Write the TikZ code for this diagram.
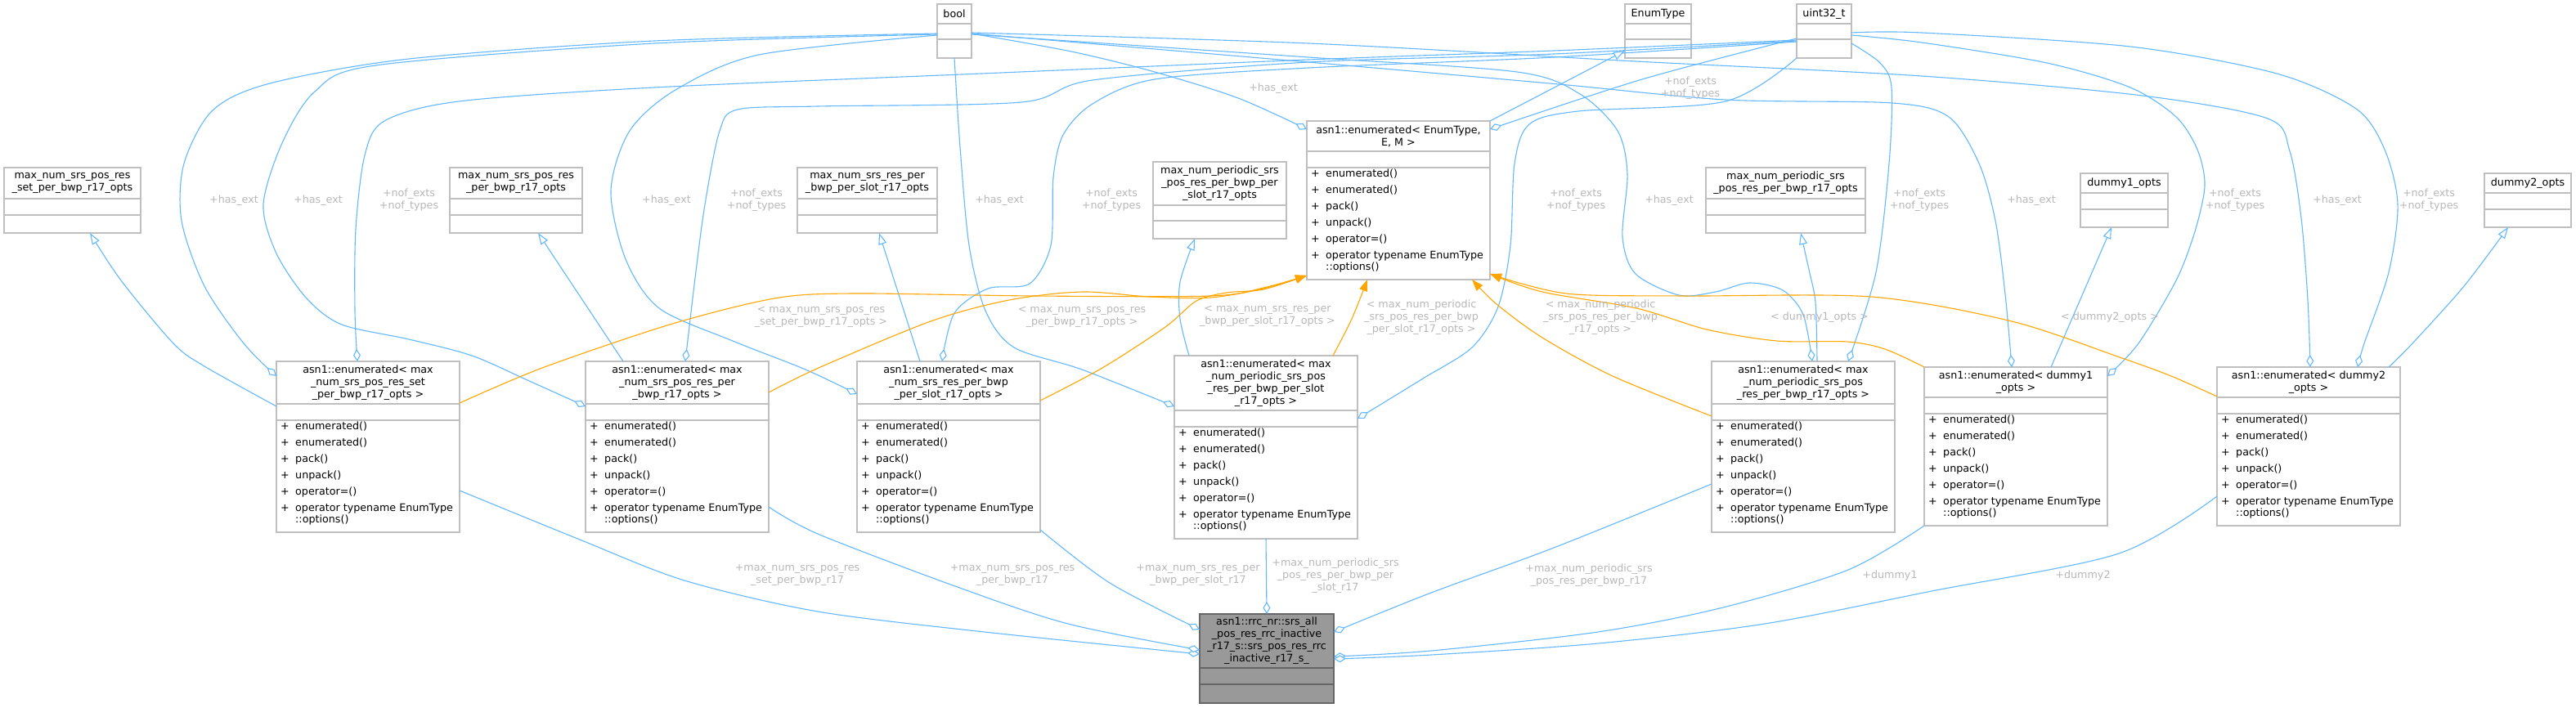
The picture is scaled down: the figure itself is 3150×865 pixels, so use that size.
\documentclass[tikz,border=0pt]{standalone}
\usepackage{fontspec}
\setmainfont{DejaVu Sans}
\usetikzlibrary{arrows.meta}
\definecolor{boxgray}{HTML}{BFBFBF}
\definecolor{edgeblue}{HTML}{63B8FF}
\definecolor{edgeorange}{HTML}{FFA500}
\definecolor{labelgray}{HTML}{B8B8B8}
\definecolor{mainfill}{HTML}{999999}
\definecolor{mainborder}{HTML}{666666}
\tikzset{
  classbox/.style={draw=boxgray, fill=white, line width=1.2pt, inner sep=0pt, outer sep=0pt, anchor=north west},
  sepline/.style={draw=boxgray, line width=1.2pt},
  titletext/.style={align=center, inner sep=0pt, font=\fontsize{12.7}{15}\selectfont},
  methtext/.style={anchor=mid west, inner sep=0pt, font=\fontsize{12.7}{15}\selectfont},
  elabel/.style={align=center, inner sep=0pt, text=labelgray, font=\fontsize{12.7}{15}\selectfont},
  usage/.style={draw=edgeblue, line width=1.1pt, -{Diamond[fill=white, length=15pt, width=9pt]}},
  inherit/.style={draw=edgeblue, line width=1.1pt, -{Triangle[fill=white, length=14pt, width=10pt]}},
  templ/.style={draw=edgeorange, line width=1.1pt, -{Triangle[length=14pt, width=10pt]}},
}
\newcommand{\enumbox}[5]{%
  \pgfmathsetmacro{\tht}{15*#4+7}%
  \pgfmathsetmacro{\bxh}{\tht+157}%
  \node[classbox, minimum width=224pt, minimum height=\bxh pt] (#1) at (#2,#3) {};
  \node[titletext] (#1-t) at (#2+112,#3+\tht/2) {#5};
  \draw[sepline] (#2,#3+\tht) -- ++(224,0);
  \draw[sepline] (#2,#3+\tht+20) -- ++(224,0);
  \foreach \i/\mname in {0/enumerated(),1/enumerated(),2/pack(),3/unpack(),4/operator=()}{
    \node[methtext] (#1-p\i) at (#2+5,#3+\tht+29+20*\i) {+};
    \node[methtext] (#1-m\i) at (#2+23,#3+\tht+29+20*\i) {\mname};
  }
  \node[methtext] (#1-p5) at (#2+5,#3+\tht+129) {+};
  \node[methtext] (#1-m5) at (#2+23,#3+\tht+129) {operator typename EnumType};
  \node[methtext] (#1-m6) at (#2+23,#3+\tht+143) {::options()};
}
\newcommand{\simplebox}[8]{%
  \pgfmathsetmacro{\bxw}{#4-#2}%
  \pgfmathsetmacro{\bxh}{#7-#3}%
  \node[classbox, minimum width=\bxw pt, minimum height=\bxh pt] (#1) at (#2,#3) {};
  \node[titletext] (#1-t) at ({(#2+#4)/2},{(#3+#5)/2}) {#8};
  \draw[sepline] (#2,#5) -- (#4,#5);
  \draw[sepline] (#2,#6) -- (#4,#6);
}
\begin{document}
\begin{tikzpicture}[x=1pt,y=-1pt]
\fill[white] (0,0) rectangle (3150,865);
\useasboundingbox (0,0) rectangle (3150,865);

% simple boxes
\simplebox{bool}{1146}{5}{1188}{29}{48}{71}{bool}
\simplebox{enumtype}{1987}{5}{2068}{29}{48}{71}{EnumType}
\simplebox{uint32}{2197}{5}{2264}{29}{48}{71}{uint32\_t}
\simplebox{optset}{5}{205}{172}{243}{263}{285}{max\_num\_srs\_pos\_res\\\_set\_per\_bwp\_r17\_opts}
\simplebox{optposres}{550}{205}{712}{243}{263}{285}{max\_num\_srs\_pos\_res\\\_per\_bwp\_r17\_opts}
\simplebox{optslot}{975}{205}{1146}{243}{263}{285}{max\_num\_srs\_res\_per\\\_bwp\_per\_slot\_r17\_opts}
\simplebox{optperslot}{1410}{198}{1573}{251}{270}{292}{max\_num\_periodic\_srs\\\_pos\_res\_per\_bwp\_per\\\_slot\_r17\_opts}
\simplebox{optperbwp}{2086}{205}{2281}{243}{263}{285}{max\_num\_periodic\_srs\\\_pos\_res\_per\_bwp\_r17\_opts}
\simplebox{optd1}{2544}{212}{2651}{236}{256}{278}{dummy1\_opts}
\simplebox{optd2}{3038}{212}{3144}{236}{256}{278}{dummy2\_opts}

% enumerated boxes
\enumbox{eenum}{1598}{148}{2}{asn1::enumerated< EnumType,\\E, M >}
\enumbox{eset}{338}{442}{3}{asn1::enumerated< max\\\_num\_srs\_pos\_res\_set\\\_per\_bwp\_r17\_opts >}
\enumbox{eposres}{716}{442}{3}{asn1::enumerated< max\\\_num\_srs\_pos\_res\_per\\\_bwp\_r17\_opts >}
\enumbox{eslot}{1048}{442}{3}{asn1::enumerated< max\\\_num\_srs\_res\_per\_bwp\\\_per\_slot\_r17\_opts >}
\enumbox{eperslot}{1436}{435}{4}{asn1::enumerated< max\\\_num\_periodic\_srs\_pos\\\_res\_per\_bwp\_per\_slot\\\_r17\_opts >}
\enumbox{eperbwp}{2093}{442}{3}{asn1::enumerated< max\\\_num\_periodic\_srs\_pos\\\_res\_per\_bwp\_r17\_opts >}
\enumbox{ed1}{2353}{449}{2}{asn1::enumerated< dummy1\\\_opts >}
\enumbox{ed2}{2711}{449}{2}{asn1::enumerated< dummy2\\\_opts >}

% main node
\node[classbox, fill=mainfill, draw=mainborder, minimum width=164pt, minimum height=109pt] (main) at (1467,751) {};
\node[titletext] (main-t) at (1549,784) {asn1::rrc\_nr::srs\_all\\\_pos\_res\_rrc\_inactive\\\_r17\_s::srs\_pos\_res\_rrc\\\_inactive\_r17\_s\_};
\draw[sepline, draw=mainborder] (1467,817) -- (1631,817);
\draw[sepline, draw=mainborder] (1467,837) -- (1631,837);

% usage edges from bool
\draw[usage] plot[smooth] coordinates {(bool.west |- 0,41) (800,50) (500,72) (330,102) (260,135) (225,200) (222,270) (250,350) (298,420) (eset.west |- 0,460)};
\draw[usage] plot[smooth] coordinates {(bool.west |- 0,42) (800,53) (459,80) (385,112) (345,175) (322,250) (338,310) (375,365) (418,397) (500,415) (577,435) (645,465) (eposres.west |- 0,497)};
\draw[usage] plot[smooth] coordinates {(bool.west |- 0,43) (928,67) (826,110) (770,160) (747,233) (765,317) (806,377) (896,417) (985,452) (eslot.west |- 0,482)};
\draw[usage] plot[smooth] coordinates {(bool.south) (1174,180) (1185,300) (1205,380) (1240,425) (1323,452) (eperslot.west |- 0,497)};
\draw[usage] plot[smooth] coordinates {(bool.east |- 0,41) (1310,63) (1412,88) (1514,120) (eenum.west |- 0,158)};
\draw[usage] plot[smooth] coordinates {(bool.east |- 0,42) (1600,70) (1855,88) (1932,115) (1978,160) (1990,213) (1984,290) (2000,335) (2053,361) (2098,357) (2139,346) (2180,355) (2205,385) (eperbwp.north -| 2216,0)};
\draw[usage] plot[smooth] coordinates {(bool.east |- 0,41) (1600,76) (1906,103) (2110,122) (2314,126) (2383,143) (2420,200) (2440,270) (2452,360) (ed1.north -| 2460,0)};
\draw[usage] plot[smooth] coordinates {(bool.east |- 0,40) (1600,53) (2000,75) (2350,93) (2620,117) (2773,145) (2800,185) (2814,267) (2822,367) (ed2.north -| 2825,0)};

% usage edges from uint32_t
\draw[usage] plot[smooth] coordinates {(uint32.west |- 0,47) (2008,97) (eenum.east |- 0,158)};
\draw[usage] plot[smooth] coordinates {(uint32.west |- 0,49) (1900,62) (1600,73) (1200,90) (800,107) (561,124) (470,148) (446,190) (435,280) (434,380) (eset.north -| 437,0)};
\draw[usage] plot[smooth] coordinates {(uint32.west |- 0,50) (1900,66) (1600,76) (1336,98) (1249,125) (1000,130) (902,134) (880,160) (862,250) (850,340) (eposres.north -| 838,0)};
\draw[usage] plot[smooth] coordinates {(uint32.west |- 0,51) (1900,70) (1600,83) (1412,97) (1336,127) (1300,165) (1288,217) (1285,300) (1259,347) (1208,353) (1167,383) (eslot.north -| 1152,0)};
\draw[usage] plot[smooth] coordinates {(uint32.south west) (2110,124) (1930,136) (1870,152) (1852,200) (1847,300) (1832,375) (1800,425) (1740,463) (eperslot.east |- 0,512)};
\draw[usage] plot[smooth] coordinates {(uint32.east |- 0,53) (2299,77) (2313,107) (2310,200) (2294,333) (eperbwp.north -| 2260,0)};
\draw[usage] plot[smooth] coordinates {(uint32.east |- 0,43) (2350,52) (2503,77) (2605,107) (2661,143) (2687,183) (2696,227) (2684,283) (2661,343) (2615,420) (ed1.east |- 0,460)};
\draw[usage] plot[smooth] coordinates {(uint32.east |- 0,40) (2350,40) (2605,57) (2784,90) (2881,133) (2916,183) (2932,250) (2921,333) (2891,420) (ed2.north -| 2883,0)};

% inheritance edges
\draw[inherit] (eenum.north east) -- (enumtype.west |- 0,62);
\draw[inherit] plot[smooth] coordinates {(eset.west |- 0,497) (250,448) (212,420) (148,343) (optset.south -| 110,0)};
\draw[inherit] (eposres.north -| 762,0) -- (optposres.south -| 658,0);
\draw[inherit] (eslot.north -| 1125,0) -- (optslot.south -| 1075,0);
\draw[inherit] plot[smooth] coordinates {(eperslot.north -| 1454,0) (1443,390) (1443,345) (optperslot.south -| 1461,0)};
\draw[inherit] plot[smooth] coordinates {(eperbwp.north -| 2222,0) (2220,370) (2212,330) (optperbwp.south -| 2202,0)};
\draw[inherit] (ed1.north -| 2508,0) -- (optd1.south -| 2582,0);
\draw[inherit] plot[smooth] coordinates {(ed2.north -| 2921,0) (2950,420) (3013,350) (optd2.south -| 3067,0)};

% template edges
\draw[templ] plot[smooth] coordinates {(eset.east |- 0,493) (663,450) (819,397) (947,365) (1042,359) (1265,362) (1480,362) (1545,352) (eenum.west |- 0,337)};
\draw[templ] plot[smooth] coordinates {(eposres.east |- 0,480) (1001,450) (1138,393) (1234,367) (1323,357) (1406,363) (1480,364) (1545,353) (eenum.west |- 0,337)};
\draw[templ] plot[smooth] coordinates {(eslot.east |- 0,490) (1348,450) (1425,400) (1463,368) (1500,358) (1545,354) (eenum.west |- 0,337)};
\draw[templ] plot[smooth] coordinates {(eperslot.north -| 1630,0) (1653,390) (eenum.south -| 1672,0)};
\draw[templ] plot[smooth] coordinates {(eperbwp.west |- 0,509) (1972,460) (1886,413) (1830,372) (eenum.south -| 1800,0)};
\draw[templ] plot[smooth] coordinates {(ed1.north west) (2305,427) (2259,418) (2173,417) (2087,403) (2001,377) (1886,357) (eenum.east |- 0,335)};
\draw[templ] plot[smooth] coordinates {(ed2.west |- 0,485) (2655,460) (2592,437) (2460,393) (2288,363) (2058,362) (1915,359) (eenum.east |- 0,335)};

% composition edges to main
\draw[usage] plot[smooth] coordinates {(eset.east |- 0,600) (709,660) (837,710) (1000,748) (1204,773) (main.west |- 0,800)};
\draw[usage] plot[smooth] coordinates {(eposres.east |- 0,620) (1000,653) (1168,717) (1306,763) (main.west |- 0,795)};
\draw[usage] plot[smooth] coordinates {(eslot.east |- 0,648) (1357,713) (main.west |- 0,770)};
\draw[usage] (eperslot.south) -- (main.north);
\draw[usage] plot[smooth] coordinates {(eperbwp.west |- 0,592) (1900,670) (1750,725) (main.east |- 0,773)};
\draw[usage] plot[smooth] coordinates {(ed1.south west) (2260,697) (2107,743) (1954,773) (1750,796) (main.east |- 0,803)};
\draw[usage] plot[smooth] coordinates {(ed2.west |- 0,607) (2591,677) (2362,723) (2158,763) (1954,787) (1750,801) (main.east |- 0,806)};

% edge labels
\node[elabel] (l1) at (286,245) {+has\_ext};
\node[elabel] (l2) at (389,245) {+has\_ext};
\node[elabel] (l3) at (500,245) {+nof\_exts\\+nof\_types};
\node[elabel] (l4) at (815,245) {+has\_ext};
\node[elabel] (l5) at (925,245) {+nof\_exts\\+nof\_types};
\node[elabel] (l6) at (1222,245) {+has\_ext};
\node[elabel] (l7) at (1359,245) {+nof\_exts\\+nof\_types};
\node[elabel] (l8) at (1557,108) {+has\_ext};
\node[elabel] (l9) at (2067,108) {+nof\_exts\\+nof\_types};
\node[elabel] (l10) at (1927,245) {+nof\_exts\\+nof\_types};
\node[elabel] (l11) at (2041,245) {+has\_ext};
\node[elabel] (l12) at (2347,245) {+nof\_exts\\+nof\_types};
\node[elabel] (l13) at (2484,245) {+has\_ext};
\node[elabel] (l14) at (2733,245) {+nof\_exts\\+nof\_types};
\node[elabel] (l15) at (2858,245) {+has\_ext};
\node[elabel] (l16) at (2970,245) {+nof\_exts\\+nof\_types};

\node[elabel] (t1) at (1004,388) {< max\_num\_srs\_pos\_res\\\_set\_per\_bwp\_r17\_opts >};
\node[elabel] (t2) at (1323,388) {< max\_num\_srs\_pos\_res\\\_per\_bwp\_r17\_opts >};
\node[elabel] (t3) at (1550,387) {< max\_num\_srs\_res\_per\\\_bwp\_per\_slot\_r17\_opts >};
\node[elabel] (t4) at (1738,388) {< max\_num\_periodic\\\_srs\_pos\_res\_per\_bwp\\\_per\_slot\_r17\_opts >};
\node[elabel] (t5) at (1957,388) {< max\_num\_periodic\\\_srs\_pos\_res\_per\_bwp\\\_r17\_opts >};
\node[elabel] (t6) at (2225,388) {< dummy1\_opts >};
\node[elabel] (t7) at (2580,388) {< dummy2\_opts >};

\node[elabel] (c1) at (975,704) {+max\_num\_srs\_pos\_res\\\_set\_per\_bwp\_r17};
\node[elabel] (c2) at (1238,704) {+max\_num\_srs\_pos\_res\\\_per\_bwp\_r17};
\node[elabel] (c3) at (1465,704) {+max\_num\_srs\_res\_per\\\_bwp\_per\_slot\_r17};
\node[elabel] (c4) at (1633,704) {+max\_num\_periodic\_srs\\\_pos\_res\_per\_bwp\_per\\\_slot\_r17};
\node[elabel] (c5) at (1943,704) {+max\_num\_periodic\_srs\\\_pos\_res\_per\_bwp\_r17};
\node[elabel] (c6) at (2311,704) {+dummy1};
\node[elabel] (c7) at (2547,704) {+dummy2};
\end{tikzpicture}
\end{document}
